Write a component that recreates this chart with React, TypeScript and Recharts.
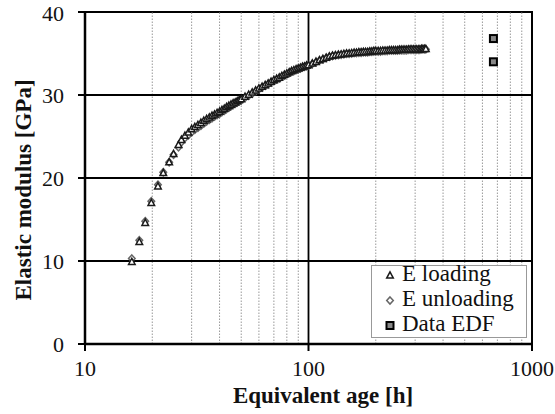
import React from 'react';
import {
  ScatterChart, Scatter, XAxis, YAxis, ReferenceLine, ReferenceArea,
} from 'recharts';

// equivalent age [h] of the measured points
const ages = [
  16.2, 17.5, 18.6, 19.8, 21.2, 22.4, 23.8, 24.9, 26.2, 27, 28,
  29, 30, 31, 32, 33, 34, 35, 36, 37, 38, 39, 40, 41, 42, 43, 44, 45, 46, 47, 48, 49, 50,
  52, 54, 56, 58, 60, 62, 64, 66, 68, 70, 72, 74, 76, 78, 80, 82, 84, 86, 88, 90, 92, 94, 96, 98, 100,
  104, 108, 112, 116, 120, 124, 128, 132, 136, 140, 144, 148, 152, 156, 160, 164, 168, 172, 176, 180, 184, 188, 192, 196, 200,
  205, 210, 215, 220, 225, 230, 235, 240, 245, 250, 255, 260, 265, 270, 275, 280, 285, 290, 295, 300, 305, 310, 315, 320, 325, 330, 335,
];

// elastic modulus [GPa], loading branch
const eLoading = [
  9.9, 12.3, 14.6, 17.0, 19.0, 20.6, 21.9, 22.9, 24.0, 24.6, 25.1,
  25.5, 25.9, 26.15, 26.4, 26.65, 26.9, 27.1, 27.3, 27.5, 27.65, 27.85, 28.0, 28.2, 28.35, 28.55, 28.7, 28.85, 29.0, 29.1, 29.25, 29.4, 29.5,
  29.8, 30.05, 30.3, 30.55, 30.8, 31.0, 31.2, 31.4, 31.6, 31.8, 31.95, 32.1, 32.3, 32.45, 32.6, 32.75, 32.9, 33.0, 33.1, 33.2, 33.3, 33.4, 33.45, 33.55, 33.6,
  33.8, 34.0, 34.2, 34.35, 34.5, 34.65, 34.75, 34.8, 34.85, 34.9, 34.95, 35.0, 35.0, 35.05, 35.1, 35.1, 35.15, 35.15, 35.2, 35.2, 35.2, 35.25, 35.25, 35.3, 35.3,
  35.3, 35.3, 35.35, 35.35, 35.35, 35.4, 35.4, 35.4, 35.4, 35.4, 35.45, 35.45, 35.45, 35.45, 35.45, 35.5, 35.5, 35.5, 35.5, 35.5, 35.5, 35.5, 35.5, 35.55, 35.55, 35.55, 35.55,
];

// elastic modulus [GPa], unloading branch
const eUnloading = [
  10.3, 12.5, 14.8, 17.2, 19.2, 20.7, 21.9, 22.8, 23.7, 24.3, 24.8,
  25.15, 25.5, 25.8, 26.05, 26.3, 26.55, 26.8, 27.0, 27.2, 27.4, 27.6, 27.75, 27.95, 28.1, 28.3, 28.45, 28.65, 28.8, 28.95, 29.1, 29.25, 29.35,
  29.65, 29.9, 30.15, 30.45, 30.7, 30.9, 31.1, 31.3, 31.5, 31.7, 31.85, 32.0, 32.2, 32.35, 32.5, 32.65, 32.8, 32.9, 33.0, 33.1, 33.2, 33.3, 33.4, 33.5, 33.55,
  33.75, 33.95, 34.15, 34.3, 34.45, 34.6, 34.7, 34.75, 34.8, 34.85, 34.9, 34.95, 34.95, 35.0, 35.05, 35.05, 35.1, 35.1, 35.15, 35.15, 35.15, 35.2, 35.2, 35.25, 35.25,
  35.25, 35.25, 35.3, 35.3, 35.3, 35.35, 35.35, 35.35, 35.35, 35.35, 35.4, 35.4, 35.4, 35.4, 35.4, 35.45, 35.45, 35.45, 35.45, 35.45, 35.45, 35.45, 35.45, 35.5, 35.5, 35.5, 35.5,
];

const edfAges = [672, 672];
const edfValues = [36.8, 34.0];

const xTicks = [10, 100, 1000];
const yTicks = [0, 10, 20, 30, 40];
const minorX = [20, 30, 40, 50, 60, 70, 80, 90, 200, 300, 400, 500, 600, 700, 800, 900];
const majorY = [10, 20, 30];

const loadingData = ages.map((a, i) => ({ x: a, y: eLoading[i] }));
const unloadingData = ages.map((a, i) => ({ x: a, y: eUnloading[i] }));
const edfData = edfAges.map((a, i) => ({ x: a, y: edfValues[i] }));

const FONT = 'Liberation Serif, Times New Roman, serif';
const INK = '#111';

const Tri = ({ cx, cy }: any) => (
  <polygon
    points={`${cx},${cy - 3.6} ${cx + 3.3},${cy + 2.6} ${cx - 3.3},${cy + 2.6}`}
    fill="#fff" stroke="#1a1a1a" strokeWidth={1.5}
  />
);

const Diamond = ({ cx, cy }: any) => (
  <polygon
    points={`${cx},${cy - 3.6} ${cx + 3.3},${cy} ${cx},${cy + 3.6} ${cx - 3.3},${cy}`}
    fill="#fff" stroke="#666" strokeWidth={1.5}
  />
);

const Square = ({ cx, cy }: any) => (
  <rect x={cx - 3.5} y={cy - 3.5} width={7} height={7} fill="#888" stroke="#000" strokeWidth={2} />
);

const LegendBox = () => {
  const items = [
    { label: 'E loading', Icon: Tri },
    { label: 'E unloading', Icon: Diamond },
    { label: 'Data EDF', Icon: Square },
  ];
  return (
    <div style={{
      position: 'absolute', left: 371, top: 265, width: 156, height: 73,
      border: '1px solid #999', background: '#fff', boxSizing: 'border-box',
      fontFamily: FONT, fontSize: 23, lineHeight: '25px', color: INK,
    }}>
      <div style={{ position: 'relative', top: -5, left: 12 }}>
        {items.map(({ label, Icon }) => (
          <div key={label} style={{ display: 'flex', alignItems: 'center', whiteSpace: 'nowrap' }}>
            <svg width={12} height={12} style={{ marginRight: 6, marginTop: 3 }}>
              <Icon cx={6} cy={6.5} />
            </svg>
            {label}
          </div>
        ))}
      </div>
    </div>
  );
};

export default function App() {
  return (
    <div style={{ width: 555, height: 414, background: '#fff', position: 'relative', fontFamily: FONT }}>
      <style>{'body{margin:0}'}</style>
      <ScatterChart width={555} height={414} margin={{ top: 12, right: 23, bottom: 0, left: 25 }}>
        <XAxis
          type="number" dataKey="x" scale="log" domain={[10, 1000]} ticks={xTicks}
          allowDataOverflow height={70} tickSize={7} tickMargin={9}
          axisLine={{ stroke: '#000', strokeWidth: 2.5 }} tickLine={{ stroke: '#000', strokeWidth: 2 }}
          tick={{ fill: INK, fontSize: 22, fontFamily: FONT }}
          label={{
            content: () => (
              <text x={323} y={403} textAnchor="middle" fill={INK} fontSize={23} fontWeight="bold" fontFamily={FONT}>
                Equivalent age [h]
              </text>
            ),
          }}
        />
        <YAxis
          type="number" dataKey="y" domain={[0, 40]} ticks={yTicks} width={60}
          tickSize={7} tickMargin={14}
          axisLine={{ stroke: '#000', strokeWidth: 2.5 }} tickLine={{ stroke: '#000', strokeWidth: 2 }}
          tick={{ fill: INK, fontSize: 22, fontFamily: FONT }}
          label={{
            content: () => (
              <text transform="translate(31,190) rotate(-90)" textAnchor="middle" fill={INK} fontSize={23} fontWeight="bold" fontFamily={FONT}>
                Elastic modulus [GPa]
              </text>
            ),
          }}
        />
        {minorX.map((v) => (
          <ReferenceLine key={`mx${v}`} x={v} stroke="#999" strokeDasharray="1.5 1.5" strokeWidth={1} />
        ))}
        {majorY.map((v) => (
          <ReferenceLine key={`my${v}`} y={v} stroke="#000" strokeWidth={1.8} />
        ))}
        <ReferenceLine x={100} stroke="#000" strokeWidth={1.8} />
        <ReferenceArea x1={10} x2={1000} y1={0} y2={40} fill="none" stroke="#000" strokeWidth={2} />
        <Scatter data={unloadingData} shape={(p: any) => <Diamond cx={p.cx} cy={p.cy} />} isAnimationActive={false} />
        <Scatter data={loadingData} shape={(p: any) => <Tri cx={p.cx} cy={p.cy} />} isAnimationActive={false} />
        <Scatter data={edfData} shape={(p: any) => <Square cx={p.cx} cy={p.cy} />} isAnimationActive={false} />
      </ScatterChart>
      <LegendBox />
    </div>
  );
}
